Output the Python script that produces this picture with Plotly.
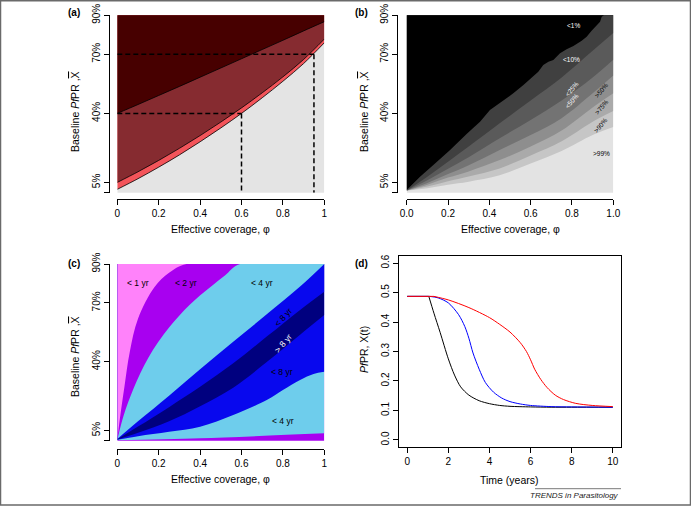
import plotly.graph_objects as go

W, H = 691, 506
FONT = "Liberation Sans, Arial, Helvetica, sans-serif"

# ---------------- shared axis ticks ----------------
cov_ticks = [0, 0.2, 0.4, 0.6, 0.8, 1.0]
cov_text_ac = ["0", "0.2", "0.4", "0.6", "0.8", "1"]
cov_text_b = ["0.0", "0.2", "0.4", "0.6", "0.8", "1.0"]
# position of baseline PfPR ticks on the (non-linear) vertical scale
pfpr_tick_pos = [0.0, 0.058, 0.447, 0.78, 1.0]
pfpr_tick_text = ["", "5%", "40%", "70%", "90%"]

# ---------------- panel (a) ----------------
a_cov = [0.0, 0.1, 0.2, 0.3, 0.4, 0.5, 0.6, 0.7, 0.8, 0.9, 1.0]
a_upper = [0.447, 0.497, 0.548, 0.599, 0.651, 0.703, 0.755, 0.807, 0.859, 0.912, 0.964]
a_band_top = [0.058, 0.118, 0.182, 0.250, 0.322, 0.398, 0.478, 0.563, 0.653, 0.751, 0.866]
a_band_bot = [0.019, 0.079, 0.144, 0.213, 0.287, 0.365, 0.447, 0.535, 0.628, 0.728, 0.845]
a_colors = ["#e4e4e4", "#f3545a", "#862b30", "#470000"]
scen_cov = [0.6, 0.95]
scen_base = [0.447, 0.78]   # 40%, 70%

# ---------------- panel (b) ----------------
b_black_c = [0.0, 0.0645, 0.129, 0.21, 0.29, 0.355, 0.403, 0.436, 0.468, 0.516, 0.565,
             0.613, 0.637, 0.661, 0.686, 0.710, 0.742, 0.774, 0.807, 0.847, 0.871,
             0.895, 0.920, 0.936, 0.944, 0.955, 1.0]
b_black_u = [0.015, 0.090, 0.156, 0.241, 0.331, 0.400, 0.466, 0.494, 0.523, 0.560, 0.607,
             0.654, 0.682, 0.720, 0.738, 0.748, 0.786, 0.808, 0.827, 0.857, 0.879,
             0.913, 0.945, 0.964, 0.992, 1.0, 1.0]
b_cov = [0.0, 0.1, 0.2, 0.3, 0.45, 0.6, 0.75, 0.9, 1.0]
b_lt10 = [0.012, 0.090, 0.175, 0.260, 0.391, 0.520, 0.650, 0.800, 0.900]
b_lt25 = [0.012, 0.070, 0.135, 0.200, 0.307, 0.410, 0.520, 0.650, 0.750]
b_lt50 = [0.012, 0.055, 0.105, 0.155, 0.241, 0.325, 0.420, 0.560, 0.660]
b_gt50 = [0.012, 0.045, 0.085, 0.120, 0.184, 0.260, 0.350, 0.480, 0.560]
b_gt75 = [0.012, 0.035, 0.065, 0.092, 0.137, 0.210, 0.290, 0.400, 0.460]
b_gt90 = [0.012, 0.025, 0.045, 0.062, 0.098, 0.165, 0.235, 0.325, 0.370]
b_colors = ["#e3e3e3", "#c6c6c6", "#aaaaaa", "#8e8e8e", "#737373", "#5a5a5a", "#404040", "#000000"]
b_labels = ["<1%", "<10%", "<25%", "<50%", ">50%", ">75%", ">90%", ">99%"]
b_lab_c = [0.805, 0.80, 0.80, 0.80, 0.945, 0.945, 0.936, 0.945]
b_lab_u = [0.945, 0.752, 0.588, 0.52, 0.579, 0.485, 0.38, 0.22]
b_lab_ang = [0, 0, -50, -50, -50, -50, -50, 0]
b_lab_col = ["white", "white", "white", "white", "black", "black", "black", "black"]

# ---------------- panel (c) ----------------
c_p1_c = [0.0, 0.012, 0.035, 0.06, 0.10, 0.18, 0.25, 0.335, 1.0]
c_p1_u = [0.005, 0.12, 0.31, 0.50, 0.69, 0.87, 0.95, 1.0, 1.0]
c_p2_c = [0.0, 0.03, 0.08, 0.15, 0.25, 0.35, 0.45, 0.52, 0.593, 1.0]
c_p2_u = [0.005, 0.14, 0.30, 0.47, 0.64, 0.77, 0.87, 0.935, 1.0, 1.0]
c_mid_c = [0.0, 0.1, 0.25, 0.4, 0.56, 0.722, 0.883, 1.0]
c_b1_u = [0.010, 0.11, 0.255, 0.405, 0.56, 0.715, 0.872, 1.0]
c_n1_u = [0.008, 0.08, 0.19, 0.305, 0.438, 0.589, 0.740, 0.843]
c_n2_u = [0.006, 0.045, 0.11, 0.195, 0.300, 0.445, 0.600, 0.711]
c_b2_c = [0.0, 0.1, 0.25, 0.4, 0.56, 0.722, 0.80, 0.883, 0.948, 1.0]
c_b2_u = [0.005, 0.025, 0.05, 0.079, 0.145, 0.230, 0.287, 0.344, 0.378, 0.39]
c_b3_c = [0.0, 0.4, 1.0]
c_b3_u = [0.003, 0.014, 0.042]
c_pink, c_purple, c_lblue, c_blue, c_navy = "#ff82fa", "#a800f0", "#6ecdec", "#0808ee", "#00007f"
c_labels = ["< 1 yr", "< 2 yr", "< 4 yr", "< 8 yr", "> 8 yr", "< 8 yr", "< 4 yr"]
c_lab_c = [0.101, 0.331, 0.701, 0.802, 0.802, 0.797, 0.799]
c_lab_u = [0.891, 0.891, 0.891, 0.702, 0.555, 0.39, 0.111]
c_lab_ang = [0, 0, 0, -48, -50, 0, 0]
c_lab_col = ["black", "black", "black", "black", "white", "black", "black"]

# ---------------- panel (d) ----------------
# flat pre-intervention level, then decline after the knee
d_black_t = [0, 1.05, 1.3, 1.6, 2.0, 2.3, 2.6, 3.0, 3.5, 4.0, 4.5, 5, 6, 7, 8, 10]
d_black_y = [0.487, 0.487, 0.43, 0.365, 0.275, 0.22, 0.18, 0.152, 0.133, 0.123, 0.117, 0.114, 0.112, 0.111, 0.111, 0.111]
d_blue_t = [0, 1.1, 1.5, 2.0, 2.5, 2.8, 3.0, 3.2, 3.5, 3.8, 4.2, 4.6, 5.0, 5.5, 6, 7, 8, 10]
d_blue_y = [0.487, 0.487, 0.482, 0.465, 0.425, 0.385, 0.345, 0.295, 0.24, 0.195, 0.162, 0.142, 0.130, 0.122, 0.117, 0.113, 0.112, 0.111]
d_red_t = [0, 1.3, 2.0, 3.0, 4.0, 4.5, 5.0, 5.5, 5.8, 6.0, 6.2, 6.5, 6.8, 7.2, 7.6, 8.2, 9, 10]
d_red_y = [0.487, 0.487, 0.475, 0.449, 0.415, 0.392, 0.366, 0.33, 0.30, 0.272, 0.24, 0.205, 0.178, 0.152, 0.137, 0.124, 0.117, 0.113]
d_xticks = [0, 2, 4, 6, 8, 10]
d_yticks = [0.0, 0.1, 0.2, 0.3, 0.4, 0.5, 0.6]

fig = go.Figure()


def layer(xa, ya, xs, ys, color, shape="spline"):
    """Fill the area from the curve (xs, ys) up to beyond the top of the axis."""
    fig.add_trace(go.Scatter(x=[xs[0], xs[-1]], y=[1.3, 1.3], mode="lines",
                             line=dict(width=0, color=color), xaxis=xa, yaxis=ya,
                             hoverinfo="skip", showlegend=False))
    fig.add_trace(go.Scatter(x=xs, y=ys, mode="lines",
                             line=dict(width=0, color=color, shape=shape, smoothing=1),
                             fill="tonexty", fillcolor=color, xaxis=xa, yaxis=ya,
                             hoverinfo="skip", showlegend=False))


def curve(xa, ya, xs, ys, color, width=0.8, dash=None, shape="spline", smoothing=1):
    fig.add_trace(go.Scatter(x=xs, y=ys, mode="lines",
                             line=dict(width=width, color=color, dash=dash, shape=shape,
                                       smoothing=smoothing),
                             xaxis=xa, yaxis=ya, hoverinfo="skip", showlegend=False))


# ---- panel (a)
layer("x", "y", [0, 1], [-0.3, -0.3], a_colors[0], "linear")
layer("x", "y", a_cov, a_band_bot, a_colors[1])
layer("x", "y", a_cov, a_band_top, a_colors[2])
layer("x", "y", a_cov, a_upper, a_colors[3])
for arr in (a_band_bot, a_band_top, a_upper):
    curve("x", "y", a_cov, arr, "black", 0.8)
for cv, bv in zip(scen_cov, scen_base):
    curve("x", "y", [0, cv], [bv, bv], "black", 1.5, "5px,3px", "linear")
    curve("x", "y", [cv, cv], [bv, 0], "black", 1.5, "5px,3px", "linear")

# ---- panel (b)
layer("x2", "y2", [0, 1], [-0.3, -0.3], b_colors[0], "linear")
for arr, col in zip([b_gt90, b_gt75, b_gt50, b_lt50, b_lt25, b_lt10], b_colors[1:7]):
    layer("x2", "y2", b_cov, arr, col)
layer("x2", "y2", b_black_c, b_black_u, b_colors[7], "linear")

# ---- panel (c)
layer("x3", "y3", [0, 1], [-0.3, -0.3], c_purple, "linear")
layer("x3", "y3", c_b3_c, c_b3_u, c_lblue)
layer("x3", "y3", c_b2_c, c_b2_u, c_blue)
layer("x3", "y3", c_mid_c, c_n2_u, c_navy)
layer("x3", "y3", c_mid_c, c_n1_u, c_blue)
layer("x3", "y3", c_mid_c, c_b1_u, c_lblue)
layer("x3", "y3", c_p2_c, c_p2_u, c_purple)
layer("x3", "y3", c_p1_c, c_p1_u, c_pink)

# ---- panel (d): flat part drawn straight, decline smoothed
for ts, ys, col in [(d_black_t, d_black_y, "#000000"), (d_blue_t, d_blue_y, "#0000ff"),
                    (d_red_t, d_red_y, "#ff0000")]:
    curve("x4", "y4", ts[:2], ys[:2], col, 1.0, shape="linear")
    curve("x4", "y4", ts[1:], ys[1:], col, 1.0, smoothing=0.8)


def px(v):
    return v / W


def py(v):
    return 1 - v / H


tickfont = dict(family=FONT, size=10, color="black")
common_x = dict(range=[0, 1], showgrid=False, zeroline=False, showline=True, linecolor="black",
                linewidth=1, ticks="outside", ticklen=5, tickcolor="black", tickwidth=1,
                tickvals=cov_ticks, tickfont=tickfont, anchor="free", automargin=False)
common_y = dict(range=[0, 1], showgrid=False, zeroline=False, showline=True, linecolor="black",
                linewidth=1, ticks="outside", ticklen=5, tickcolor="black", tickwidth=1,
                tickvals=pfpr_tick_pos, ticktext=pfpr_tick_text, tickangle=-90,
                tickfont=tickfont, anchor="free", automargin=False)

fig.update_layout(
    template="none",
    width=W, height=H, margin=dict(l=0, r=0, t=0, b=0, autoexpand=False),
    paper_bgcolor="white", plot_bgcolor="rgba(0,0,0,0)", showlegend=False,
    font=dict(family=FONT, color="black"),
    xaxis=dict(common_x, domain=[px(117.3), px(324.3)], ticktext=cov_text_ac, position=py(199.3)),
    yaxis=dict(common_y, domain=[py(192.7), py(15.3)], position=px(109.3)),
    xaxis2=dict(common_x, domain=[px(406.7), px(613.3)], ticktext=cov_text_b, position=py(199.3)),
    yaxis2=dict(common_y, domain=[py(192.7), py(15.3)], position=px(397)),
    xaxis3=dict(common_x, domain=[px(117.3), px(324.3)], ticktext=cov_text_ac, position=py(448.7)),
    yaxis3=dict(common_y, domain=[py(440.7), py(264)], position=px(109.3)),
    xaxis4=dict(domain=[px(399), px(621)], range=[-0.4, 10.4], anchor="y4", showgrid=False,
                zeroline=False, showline=True, mirror=True, linecolor="black", linewidth=1,
                ticks="outside", ticklen=5, tickcolor="black", tickvals=d_xticks, tickfont=tickfont,
                automargin=False),
    yaxis4=dict(domain=[py(447), py(256)], range=[-0.024, 0.624], anchor="x4", showgrid=False,
                zeroline=False, showline=True, mirror=True, linecolor="black", linewidth=1,
                ticks="outside", ticklen=5, tickcolor="black", tickvals=d_yticks,
                ticktext=["%.1f" % v for v in d_yticks], tickangle=-90, tickfont=tickfont,
                automargin=False),
)

ann = []
ytitle = 'Baseline <i>Pf</i>PR ,<span style="text-decoration:overline">X</span>'
xtitle = "Effective coverage, \u03c6"
for x, y, t, ang in [
    (220.8, 229.5, xtitle, 0), (510, 229.5, xtitle, 0), (220.8, 479, xtitle, 0),
    (509, 479.5, "Time (years)", 0),
    (75, 112, ytitle, -90), (364, 112, ytitle, -90), (75, 357, ytitle, -90),
    (364, 350, "<i>Pf</i>PR, X(t)", -90),
]:
    ann.append(dict(x=px(x), y=py(y), xref="paper", yref="paper", text=t, showarrow=False,
                    textangle=ang, xanchor="center", yanchor="middle",
                    font=dict(family=FONT, size=10.5, color="black")))
for x, y, t in [(73.5, 12.5, "(a)"), (362, 12.5, "(b)"), (74, 263.5, "(c)"), (362, 263.5, "(d)")]:
    ann.append(dict(x=px(x), y=py(y), xref="paper", yref="paper", text="<b>%s</b>" % t,
                    showarrow=False, xanchor="center", yanchor="middle",
                    font=dict(family=FONT, size=10, color="black")))
for t, c, u, a, col in zip(b_labels, b_lab_c, b_lab_u, b_lab_ang, b_lab_col):
    ann.append(dict(x=c, y=u, xref="x2", yref="y2", text=t, showarrow=False, textangle=a,
                    font=dict(family=FONT, size=6.5, color=col)))
for t, c, u, a, col in zip(c_labels, c_lab_c, c_lab_u, c_lab_ang, c_lab_col):
    ann.append(dict(x=c, y=u, xref="x3", yref="y3", text=t, showarrow=False, textangle=a,
                    font=dict(family=FONT, size=8.5, color=col)))
ann.append(dict(x=px(621), y=py(495), xref="paper", yref="paper", text="<i>TRENDS in Parasitology</i>",
                showarrow=False, xanchor="right", yanchor="middle",
                font=dict(family=FONT, size=8, color="#222222")))
fig.update_layout(annotations=ann)

fig.update_layout(shapes=[
    dict(type="line", xref="paper", yref="paper", x0=px(535), x1=px(621), y0=py(488.7), y1=py(488.7),
         line=dict(color="#555555", width=0.8)),
    dict(type="rect", xref="paper", yref="paper", x0=px(0.5), x1=px(690.5), y0=py(505), y1=py(0.8),
         line=dict(color="#6a6a6a", width=1.5)),
])

fig.write_html("out.html", config={"displayModeBar": False},
               post_script="document.body.style.margin='0';document.body.style.overflow='hidden';")
